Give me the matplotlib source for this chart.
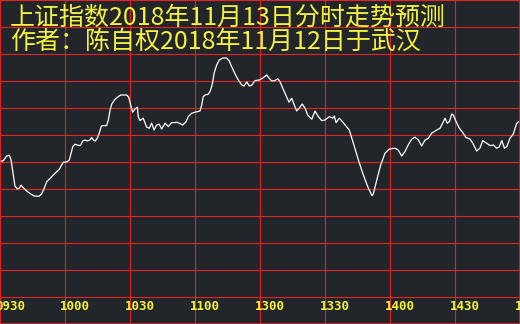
import matplotlib
matplotlib.use('Agg')
from matplotlib import pyplot as plt
from matplotlib import transforms
import numpy as np

# minutes since 09:30 (lunch break removed, 240 trading minutes)
minutes = [0, 1.4, 3.1, 4.3, 5.1, 5.9, 6.9, 8.0, 8.9, 9.7, 10.5, 12.3, 14.2, 15.8, 18.1,
           19.2, 20.4, 21.6, 23.1, 24.6, 26.2, 27.4, 28.5, 29.2, 30.8, 32.0, 32.8, 33.6,
           34.6, 35.9, 37.1, 38.2, 39.2, 40.3, 41.5, 42.3, 43.1, 44.0, 44.9, 45.8, 46.8,
           48.0, 49.2, 50.0, 50.8, 51.6, 53.1, 54.6, 55.7, 58.5, 59.4, 60.3, 61.2, 62.3,
           63.4, 63.8, 64.6, 66.1, 67.7, 68.9, 70.0, 71.1, 72.3, 73.5, 74.6, 76.2, 77.7,
           79.2, 80.8, 81.6, 83.1, 84.3, 85.8, 86.9, 88.5, 90.0, 92.3, 93.1, 93.8, 94.6,
           96.1, 96.9, 97.7, 98.2, 98.8, 100.0, 101.2, 102.8, 104.6, 105.8, 106.9, 108.5,
           110.0, 111.6, 112.6, 113.9, 115.1, 116.2, 117.7, 119.7, 121.2, 123.1, 124.2,
           125.4, 126.9, 128.2, 129.2, 130.5, 132.0, 133.4, 134.6, 135.7, 136.9, 138.1,
           139.5, 140.8, 142.0, 143.9, 145.4, 146.9, 148.5, 150.0, 152.0, 153.6, 154.3,
           155.1, 156.6, 158.4, 161.2, 163.1, 165.4, 167.7, 170.0, 171.7, 172.3, 173.9,
           175.7, 177.7, 179.7, 182.3, 183.8, 185.4, 186.9, 188.4, 190.0, 191.5, 193.1,
           194.6, 196.2, 197.7, 199.2, 201.6, 203.1, 204.3, 205.4, 206.4, 207.4, 208.5,
           209.2, 210.5, 212.0, 213.6, 215.1, 216.9, 218.2, 220.0, 221.5, 222.8, 224.6,
           226.2, 227.7, 229.2, 230.3, 231.6, 232.8, 233.9, 235.4, 236.9, 238.5, 239.4]

index_pred = [2581.5, 2581.5, 2584, 2584.4, 2582, 2576.2, 2569, 2567.5, 2568, 2569.4, 2568.4,
              2566.5, 2565, 2564, 2563.9, 2565, 2567.9, 2571.2, 2572.7, 2574.5, 2576.2,
              2577.4, 2579.5, 2580.9, 2581, 2582, 2585.4, 2588.7, 2589.9, 2589.4, 2589.2,
              2591.5, 2592, 2591.5, 2592, 2593.2, 2592, 2591.5, 2592.9, 2595.4, 2599,
              2599.2, 2599.2, 2602, 2607, 2610, 2612.4, 2613.7, 2614.5, 2614.5, 2613.4,
              2609.5, 2605.9, 2607.5, 2608.4, 2603.7, 2601.7, 2602.9, 2598.4, 2597.9,
              2600.4, 2597, 2599.5, 2599.9, 2597.5, 2600.4, 2598.7, 2600.7, 2600.7,
              2600.9, 2600.2, 2599.5, 2601, 2603.7, 2605.4, 2605.9, 2606.5, 2609.5,
              2613.7, 2614.5, 2614.9, 2616.2, 2618.7, 2621.2, 2625.4, 2629.5, 2632,
              2633, 2633, 2631.5, 2628.7, 2625, 2622, 2619.5, 2619, 2621, 2619, 2619.4,
              2621.7, 2622, 2622.9, 2624.5, 2622.9, 2621.5, 2621.7, 2622.7, 2621.2,
              2617.9, 2614.2, 2610.9, 2612.9, 2609.9, 2606.5, 2607.9, 2610, 2607.9,
              2604.5, 2602.4, 2606.5, 2603.7, 2601.7, 2602, 2603.7, 2602.9, 2604,
              2600.7, 2602.9, 2600.7, 2597, 2590.4, 2582, 2574.5, 2567.9, 2564.2, 2565,
              2572, 2579.5, 2585.4, 2587.5, 2587.9, 2587, 2584, 2586.2, 2589.5, 2592.4,
              2593.4, 2592, 2589, 2592, 2592.9, 2595.4, 2597, 2597.9, 2600.4, 2602.9,
              2600.4, 2601.2, 2605, 2604.5, 2601.2, 2597.9, 2595.7, 2593.2, 2592.5,
              2590.4, 2586.5, 2587.9, 2591.7, 2590.4, 2589.2, 2589.5, 2587.9, 2588.4,
              2591.7, 2587.9, 2588.7, 2592.9, 2595, 2600.4, 2601.2]

tick_minutes = [0, 30, 60, 90, 120, 150, 180, 210, 240]
tick_labels = ['0930', '1000', '1030', '1100', '1300', '1330', '1400', '1430', '1500']

title_1 = '上证指数2018年11月13日分时走势预测'
title_2 = '作者：陈自权2018年11月12日于武汉'

bg = '#222529'
red = '#e32424'
yellow = '#f4f23c'

fig = plt.figure(figsize=(5.2, 3.24), dpi=100)
fig.patch.set_facecolor(bg)
ax = fig.add_axes([0, 0, 1, 1])
ax.set_facecolor(bg)

ymin, ymax = 2500, 2662
ax.set_xlim(0, 240)
ax.set_ylim(ymin, ymax)

# 8 columns x 12 rows of red grid
for t in tick_minutes:
    ax.axvline(t, color=red, lw=0.8)
for y in np.linspace(ymin, ymax, 13):
    ax.axhline(y, color=red, lw=0.8)
for s in ax.spines.values():
    s.set_color(red)
    s.set_linewidth(1.2)
ax.set_xticks([])
ax.set_yticks([])

ax.plot(minutes, index_pred, color='white', lw=0.9)

# time labels sit inside the bottom row
trans = transforms.blended_transform_factory(ax.transData, ax.transAxes)
off = transforms.ScaledTranslation(-5 / 100, 0, fig.dpi_scale_trans)
for t, lab in zip(tick_minutes, tick_labels):
    ax.text(t, 18 / 324, lab, transform=trans + off, color=yellow,
            fontsize=9, fontweight='bold', family='DejaVu Sans Mono',
            ha='left', va='center', clip_on=False)

cjk = ['Noto Sans CJK SC', 'DejaVu Sans']
fig.text(10 / 520, 1 - 18 / 324, title_1, color=yellow, fontsize=18,
         family=cjk, ha='left', va='center')
fig.text(10 / 520, 1 - 42 / 324, title_2, color=yellow, fontsize=18,
         family=cjk, ha='left', va='center')

fig.savefig('out.png', dpi=100, facecolor=bg)
